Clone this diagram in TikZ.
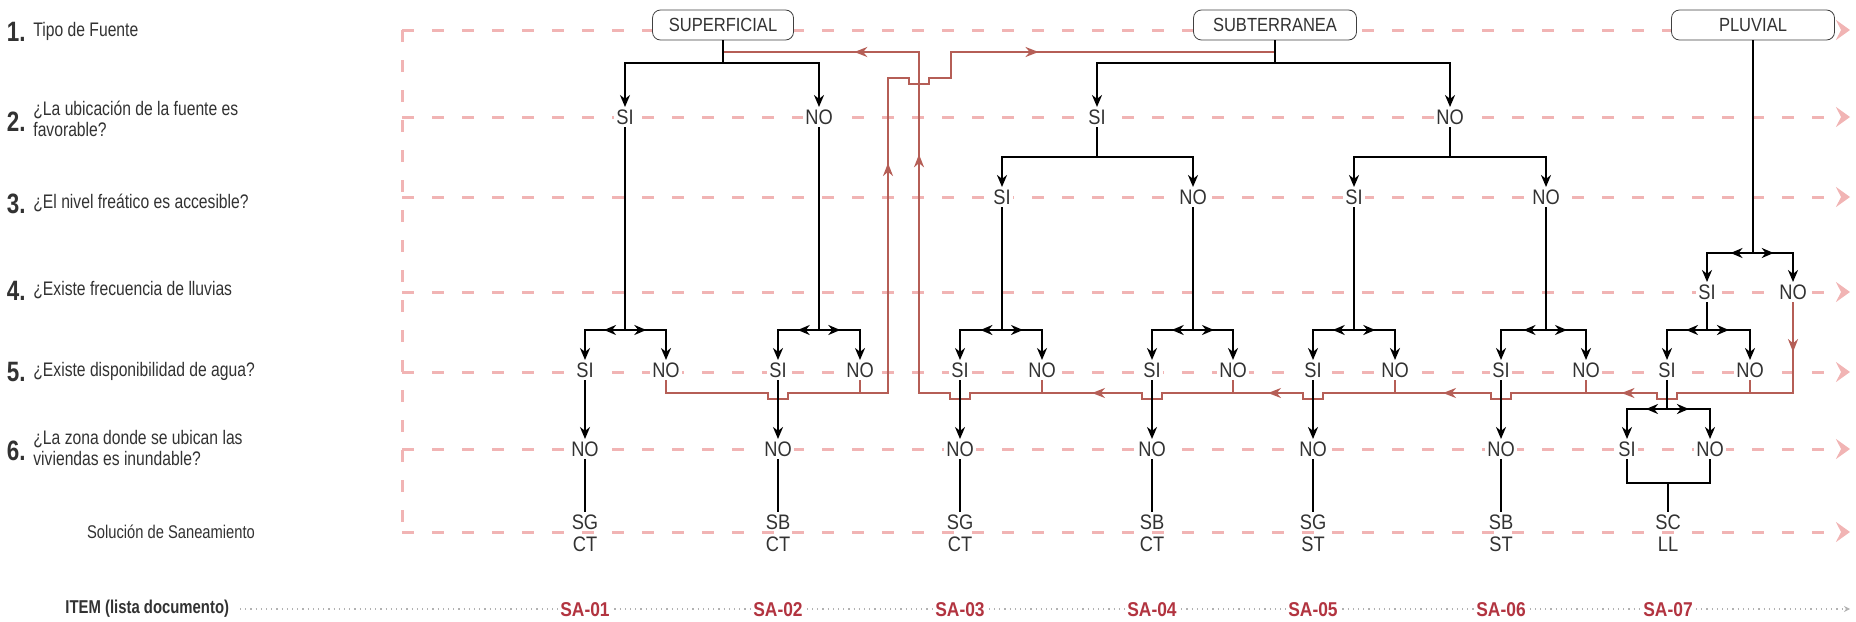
\documentclass[tikz,border=0pt]{standalone}
\usepackage{fontspec}
\setmainfont{Liberation Sans}
\newfontfamily\narrowsans{Liberation Sans}[FakeStretch=0.8]
\newfontfamily\labelsans{Liberation Sans}[FakeStretch=0.87]
\usetikzlibrary{arrows.meta,calc,decorations.markings}

\definecolor{guidepink}{RGB}{241,180,180}
\definecolor{loopred}{RGB}{181,94,86}
\definecolor{itemred}{RGB}{178,52,64}
\definecolor{txt}{RGB}{50,50,50}

% little square jumps where a red line passes under a black one
\newcommand{\hopl}{-- ++(0,6) -- ++(-20,0) -- ++(0,-6)}
\newcommand{\hopr}{-- ++(0,6) -- ++(20,0) -- ++(0,-6)}

\begin{document}
\begin{tikzpicture}[x=0.5pt, y=-0.5pt, >={Stealth[length=6pt,width=5pt]},
    blk/.style={draw=black, line width=1.3pt},
    fk/.style={postaction={decorate,decoration={markings,mark=at position 0.3 with {\arrow{Stealth[length=6pt,width=5pt]}}}}},
    lp/.style={draw=loopred, line width=1pt},
    lpmark/.style={postaction={decorate,decoration={markings,mark=at position #1 with {\arrow{Stealth[length=6.5pt,width=5pt]}}}}},
    guide/.style={draw=guidepink, line width=1.5pt, dash pattern=on 6pt off 9pt},
    ans/.style={fill=white, inner sep=1pt, text=txt, font=\labelsans\fontsize{10.5}{11}\selectfont, text height=7.6pt, text depth=0pt},
    src/.style={draw=black!75, rounded corners=4pt, fill=white, minimum height=15pt, inner sep=1pt, font=\labelsans\fontsize{9.5}{10}\selectfont, text=txt},
    sol/.style={align=center, inner sep=1pt, text=txt, font=\labelsans\fontsize{10.5}{11}\selectfont},
    qnum/.style={anchor=east, inner sep=0pt, text=txt, font=\narrowsans\fontsize{14}{15}\selectfont\bfseries},
    qtxt/.style={anchor=west, align=left, inner sep=0pt, text=txt, font=\narrowsans\fontsize{9.8}{10.5}\selectfont},
    itemlbl/.style={fill=white, inner sep=1pt, text height=7pt, text depth=0pt, text=itemred, font=\labelsans\fontsize{10}{11}\selectfont\bfseries}]

  \useasboundingbox (0,0) rectangle (1856,621);

  % guide lines
  \draw[guide] (402,30) -- (402,532);
  \draw[guide,-{Stealth[length=7pt,width=10pt,inset=2.5pt]}] (402,30) -- (1850,30);
  \draw[guide,-{Stealth[length=7pt,width=10pt,inset=2.5pt]}] (402,117) -- (1850,117);
  \draw[guide,-{Stealth[length=7pt,width=10pt,inset=2.5pt]}] (402,197) -- (1850,197);
  \draw[guide,-{Stealth[length=7pt,width=10pt,inset=2.5pt]}] (402,292) -- (1850,292);
  \draw[guide,-{Stealth[length=7pt,width=10pt,inset=2.5pt]}] (402,372) -- (1850,372);
  \draw[guide,-{Stealth[length=7pt,width=10pt,inset=2.5pt]}] (402,449) -- (1850,449);
  \draw[guide,-{Stealth[length=7pt,width=10pt,inset=2.5pt]}] (402,532) -- (1850,532);
  \draw[black!30, line width=0.6pt, dotted, -{Stealth[length=3pt,width=3pt]}] (240,609) -- (1850,609);

  % questions
  \node[qnum] (q1n) at (26,32) {1.};
  \node[qtxt] (q1) at (33,31) {Tipo de Fuente};
  \node[qnum] (q2n) at (26,122) {2.};
  \node[qtxt] (q2) at (33,119) {¿La ubicación de la fuente es\\favorable?};
  \node[qnum] (q3n) at (26,204) {3.};
  \node[qtxt] (q3) at (33,203) {¿El nivel freático es accesible?};
  \node[qnum] (q4n) at (26,291) {4.};
  \node[qtxt] (q4) at (33,290) {¿Existe frecuencia de lluvias};
  \node[qnum] (q5n) at (26,372) {5.};
  \node[qtxt] (q5) at (33,371) {¿Existe disponibilidad de agua?};
  \node[qnum] (q6n) at (26,451) {6.};
  \node[qtxt] (q6) at (33,448) {¿La zona donde se ubican las\\viviendas es inundable?};
  \node[text=txt, font=\narrowsans\fontsize{9.2}{10}\selectfont] (qs) at (171,532) {Solución de Saneamiento};
  \node[anchor=west, inner sep=0pt, text=txt, font=\narrowsans\fontsize{9.3}{10}\selectfont\bfseries] (qi) at (65,609) {ITEM (lista documento)};

  % sources
  \node[src, minimum width=70.5pt] (sup) at (723,25) {SUPERFICIAL};
  \node[src, minimum width=81.5pt] (sub) at (1275,25) {SUBTERRANEA};
  \node[src, minimum width=81.5pt] (plu) at (1753,25) {PLUVIAL};

  % answers
  \node[ans] (sup-si) at (625,117) {SI};
  \node[ans] (sup-no) at (819,117) {NO};
  \node[ans] (sub-si) at (1097,117) {SI};
  \node[ans] (sub-no) at (1450,117) {NO};

  \node[ans] (ss-si) at (1002,197) {SI};
  \node[ans] (ss-no) at (1193,197) {NO};
  \node[ans] (sn-si) at (1354,197) {SI};
  \node[ans] (sn-no) at (1546,197) {NO};

  \node[ans] (pl-si) at (1707,292) {SI};
  \node[ans] (pl-no) at (1793,292) {NO};

  \node[ans] (a1-si) at (585,370) {SI};
  \node[ans] (a1-no) at (666,370) {NO};
  \node[ans] (a2-si) at (778,370) {SI};
  \node[ans] (a2-no) at (860,370) {NO};
  \node[ans] (a3-si) at (960,370) {SI};
  \node[ans] (a3-no) at (1042,370) {NO};
  \node[ans] (a4-si) at (1152,370) {SI};
  \node[ans] (a4-no) at (1233,370) {NO};
  \node[ans] (a5-si) at (1313,370) {SI};
  \node[ans] (a5-no) at (1395,370) {NO};
  \node[ans] (a6-si) at (1501,370) {SI};
  \node[ans] (a6-no) at (1586,370) {NO};
  \node[ans] (a7-si) at (1667,370) {SI};
  \node[ans] (a7-no) at (1750,370) {NO};

  \node[ans] (b1) at (585,449) {NO};
  \node[ans] (b2) at (778,449) {NO};
  \node[ans] (b3) at (960,449) {NO};
  \node[ans] (b4) at (1152,449) {NO};
  \node[ans] (b5) at (1313,449) {NO};
  \node[ans] (b6) at (1501,449) {NO};
  \node[ans] (b7-si) at (1627,449) {SI};
  \node[ans] (b7-no) at (1710,449) {NO};

  % solutions
  \node[sol] (s1) at (585,533) {SG\\CT};
  \node[sol] (s2) at (778,533) {SB\\CT};
  \node[sol] (s3) at (960,533) {SG\\CT};
  \node[sol] (s4) at (1152,533) {SB\\CT};
  \node[sol] (s5) at (1313,533) {SG\\ST};
  \node[sol] (s6) at (1501,533) {SB\\ST};
  \node[sol] (s7) at (1668,533) {SC\\LL};

  \node[itemlbl] (i1) at (585,609) {SA-01};
  \node[itemlbl] (i2) at (778,609) {SA-02};
  \node[itemlbl] (i3) at (960,609) {SA-03};
  \node[itemlbl] (i4) at (1152,609) {SA-04};
  \node[itemlbl] (i5) at (1313,609) {SA-05};
  \node[itemlbl] (i6) at (1501,609) {SA-06};
  \node[itemlbl] (i7) at (1668,609) {SA-07};

  % red loops between the two sources
  \coordinate (rA) at (888,393);
  \coordinate (rA2) at (888,78);
  \coordinate (rA3) at (951,78);
  \coordinate (rA4) at (951,52);
  \coordinate (rB) at (1793,393);
  \coordinate (rB2) at (919,393);
  \coordinate (rB3) at (919,52);

  \draw[lp] (a1-no) -- (a1-no |- rA) -- ($(a2-si |- rA)+(-10,0)$) \hopr -- (rA) -- (rA2)
    -- ($(rB3 |- rA2)+(-10,0)$) \hopr -- (rA3) -- (rA4) -- (sub |- rA4);
  \draw[lp] (a2-no) -- (a2-no |- rA);
  \draw[lp,lpmark=0.73] (rA) -- (rA2);
  \draw[lp,lpmark=0.27] (rA4) -- (sub |- rA4);

  \draw[lp] (pl-no) -- (rB) -- ($(a7-si |- rB)+(10,0)$) \hopl -- ($(a6-si |- rB)+(10,0)$) \hopl
    -- ($(a5-si |- rB)+(10,0)$) \hopl -- ($(a4-si |- rB)+(10,0)$) \hopl
    -- ($(a3-si |- rB)+(10,0)$) \hopl -- (rB2) -- (rB3) -- (sup |- rB3);
  \draw[lp] (a3-no) -- (a3-no |- rB);
  \draw[lp] (a4-no) -- (a4-no |- rB);
  \draw[lp] (a5-no) -- (a5-no |- rB);
  \draw[lp] (a6-no) -- (a6-no |- rB);
  \draw[lp] (a7-no) -- (a7-no |- rB);
  \draw[lp,lpmark=0.55] (pl-no) -- (rB);
  \draw[lp,lpmark=0.5] ($(a7-si |- rB)+(-10,0)$) -- (a6-no |- rB);
  \draw[lp,lpmark=0.5] ($(a6-si |- rB)+(-10,0)$) -- (a5-no |- rB);
  \draw[lp,lpmark=0.5] ($(a5-si |- rB)+(-10,0)$) -- (a4-no |- rB);
  \draw[lp,lpmark=0.5] ($(a4-si |- rB)+(-10,0)$) -- (a3-no |- rB);
  \draw[lp,lpmark=0.7] (rB2) -- (rB3);
  \draw[lp,lpmark=0.33] (rB3) -- (sup |- rB3);

  % superficial
  \coordinate (j-sup) at (723,63);
  \draw[blk] (sup) -- (j-sup);
  \draw[blk,->] (j-sup) -| (sup-si);
  \draw[blk,->] (j-sup) -| (sup-no);

  % subterranea
  \coordinate (j-sub) at (1275,63);
  \draw[blk] (sub) -- (j-sub);
  \draw[blk,->] (j-sub) -| (sub-si);
  \draw[blk,->] (j-sub) -| (sub-no);
  \coordinate (j-ss) at (1097,157);
  \draw[blk] (sub-si) -- (j-ss);
  \draw[blk,->] (j-ss) -| (ss-si);
  \draw[blk,->] (j-ss) -| (ss-no);
  \coordinate (j-sn) at (1450,157);
  \draw[blk] (sub-no) -- (j-sn);
  \draw[blk,->] (j-sn) -| (sn-si);
  \draw[blk,->] (j-sn) -| (sn-no);

  % pluvial
  \coordinate (fp) at (1753,253);
  \draw[blk] (plu) -- (fp);
  \draw[blk,fk,->] (fp) -| (pl-si);
  \draw[blk,fk,->] (fp) -| (pl-no);

  % water availability
  \coordinate (f1) at (625,330);
  \draw[blk] (sup-si) -- (f1);
  \draw[blk,fk,->] (f1) -| (a1-si);
  \draw[blk,fk,->] (f1) -| (a1-no);
  \coordinate (f2) at (819,330);
  \draw[blk] (sup-no) -- (f2);
  \draw[blk,fk,->] (f2) -| (a2-si);
  \draw[blk,fk,->] (f2) -| (a2-no);
  \coordinate (f3) at (1002,330);
  \draw[blk] (ss-si) -- (f3);
  \draw[blk,fk,->] (f3) -| (a3-si);
  \draw[blk,fk,->] (f3) -| (a3-no);
  \coordinate (f4) at (1193,330);
  \draw[blk] (ss-no) -- (f4);
  \draw[blk,fk,->] (f4) -| (a4-si);
  \draw[blk,fk,->] (f4) -| (a4-no);
  \coordinate (f5) at (1354,330);
  \draw[blk] (sn-si) -- (f5);
  \draw[blk,fk,->] (f5) -| (a5-si);
  \draw[blk,fk,->] (f5) -| (a5-no);
  \coordinate (f6) at (1546,330);
  \draw[blk] (sn-no) -- (f6);
  \draw[blk,fk,->] (f6) -| (a6-si);
  \draw[blk,fk,->] (f6) -| (a6-no);
  \coordinate (f7) at (1707,330);
  \draw[blk] (pl-si) -- (f7);
  \draw[blk,fk,->] (f7) -| (a7-si);
  \draw[blk,fk,->] (f7) -| (a7-no);

  % flooding
  \draw[blk,->] (a1-si) -- (b1);
  \draw[blk,->] (a2-si) -- (b2);
  \draw[blk,->] (a3-si) -- (b3);
  \draw[blk,->] (a4-si) -- (b4);
  \draw[blk,->] (a5-si) -- (b5);
  \draw[blk,->] (a6-si) -- (b6);
  \coordinate (f8) at (1667,409);
  \draw[blk] (a7-si) -- (f8);
  \draw[blk,fk,->] (f8) -| (b7-si);
  \draw[blk,fk,->] (f8) -| (b7-no);

  % solutions
  \draw[blk] (b1) -- (s1);
  \draw[blk] (b2) -- (s2);
  \draw[blk] (b3) -- (s3);
  \draw[blk] (b4) -- (s4);
  \draw[blk] (b5) -- (s5);
  \draw[blk] (b6) -- (s6);
  \coordinate (j7) at (1668,483);
  \draw[blk] (b7-si) |- (j7) -| (b7-no);
  \draw[blk] (j7) -- (s7);
\end{tikzpicture}
\end{document}
